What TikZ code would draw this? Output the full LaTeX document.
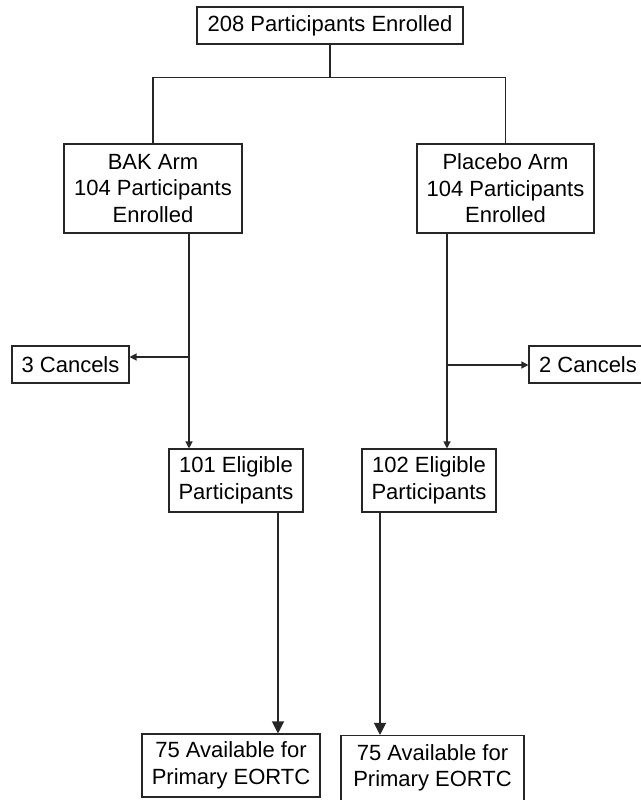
\documentclass[tikz,border=0pt]{standalone}
\usepackage{fontspec}
\setmainfont{Liberation Sans}
\usetikzlibrary{arrows.meta, positioning}

\begin{document}
\begin{tikzpicture}[
  x=1pt, y=1pt,
  box/.style={draw=black!85, line width=1.1pt, inner sep=0pt, align=center,
    font=\fontsize{22}{26.5}\selectfont},
  line/.style={draw=black!85, line width=1.2pt},
  arr/.style={line, -{Triangle[length=7pt, width=7pt]}},
  bigarr/.style={line, -{Triangle[length=12pt, width=12pt]}}
]
\useasboundingbox (0,0) rectangle (640,-800);

\node[box, minimum width=266pt, minimum height=37pt] (total) at (330,-25.5) {208 Participants Enrolled};

\node[box, minimum width=178pt, minimum height=89pt] (bak) at (153,-188.5) {BAK Arm\\104 Participants\\Enrolled};
\node[box, minimum width=177pt, minimum height=89pt] (placebo) at (505.5,-188.5) {Placebo Arm\\104 Participants\\Enrolled};

\node[box, minimum width=117pt, minimum height=37pt] (cancelbak) at (70.5,-364.5) {3 Cancels};
\node[box, minimum width=118pt, minimum height=37pt] (cancelpl) at (588,-364.5) {2 Cancels};

\node[box, minimum width=134pt, minimum height=63pt] (eligbak) at (236,-480.5) {101 Eligible\\Participants};
\node[box, minimum width=134pt, minimum height=63pt] (eligpl) at (429,-480.5) {102 Eligible\\Participants};

\node[box, minimum width=178pt, minimum height=63pt] (availbak) at (231,-765.5) {75 Available for\\Primary EORTC};
\node[box, minimum width=183pt, minimum height=65pt] (availpl) at (432.5,-768) {75 Available for\\Primary EORTC};

% branch points
\coordinate (split) at (330,-77.5);
\coordinate (cutbak) at (189,-357);
\coordinate (cutpl) at (447,-365);
\coordinate (dropbak) at (278,0);
\coordinate (droppl) at (380,0);

\draw[line] (total) -- (split);
\draw[line] (bak.north) |- (split) -| (placebo.north);

\draw[arr] (bak.south -| cutbak) -- (eligbak.north -| cutbak);
\draw[arr] (cutbak) -- (cutbak -| cancelbak.east);
\draw[arr] (placebo.south -| cutpl) -- (eligpl.north -| cutpl);
\draw[arr] (cutpl) -- (cutpl -| cancelpl.west);

\draw[bigarr] (eligbak.south -| dropbak) -- (availbak.north -| dropbak);
\draw[bigarr] (eligpl.south -| droppl) -- (availpl.north -| droppl);
\end{tikzpicture}
\end{document}
